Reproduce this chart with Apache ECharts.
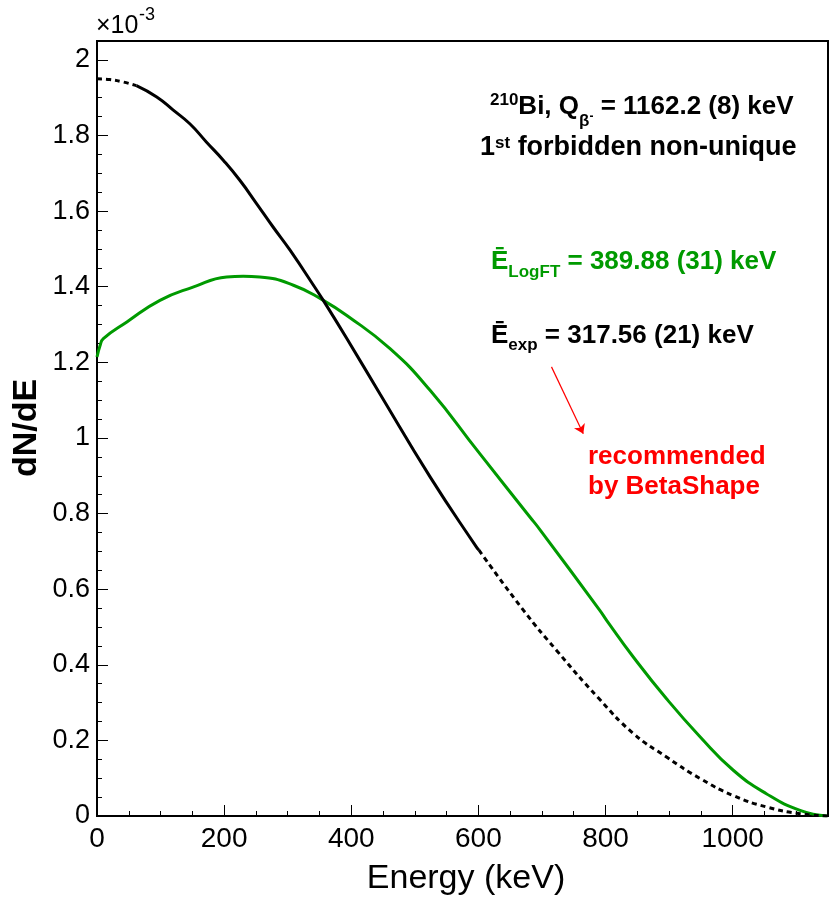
<!DOCTYPE html>
<html>
<head>
<meta charset="utf-8">
<script src="https://cdn.jsdelivr.net/npm/echarts@6/dist/echarts.min.js"></script>
<style>
  html, body { margin: 0; padding: 0; background: #fff; }
  #chart { width: 833px; height: 903px; }
</style>
</head>
<body>
<div id="chart"></div>
<script>
  // energies in keV, dN/dE in units of 1e-3
  const greenE = [0, 5, 10, 47, 99, 151, 204, 230, 256, 309, 356, 393, 461, 524, 600, 681, 697, 791, 802, 844, 896, 949, 1001, 1053, 1106, 1148]
  const greenV = [1.214, 1.245, 1.263, 1.307, 1.364, 1.399, 1.426, 1.428, 1.426, 1.404, 1.364, 1.324, 1.236, 1.126, 0.963, 0.791, 0.757, 0.544, 0.517, 0.420, 0.310, 0.209, 0.121, 0.059, 0.015, 0.0]

  // black spectrum, dotted head / solid body / dotted tail
  const blackHeadE = [0, 20, 40, 62]
  const blackHeadV = [1.950, 1.948, 1.942, 1.932]
  const blackBodyE = [62, 94, 120, 146, 172, 199, 225, 251, 277, 304, 346, 356, 393, 445, 524, 597, 601]
  const blackBodyV = [1.932, 1.902, 1.867, 1.831, 1.783, 1.734, 1.681, 1.620, 1.558, 1.496, 1.390, 1.364, 1.263, 1.117, 0.897, 0.711, 0.703]
  const blackTailE = [601, 671, 723, 790, 844, 896, 949, 1001, 1053, 1106, 1150]
  const blackTailV = [0.703, 0.544, 0.438, 0.310, 0.218, 0.156, 0.099, 0.054, 0.024, 0.006, 0.0]

  const xTicks = [0, 200, 400, 600, 800, 1000]
  const yTicks = [0, 0.2, 0.4, 0.6, 0.8, 1, 1.2, 1.4, 1.6, 1.8, 2]

  const FONT = "'Liberation Sans', Arial, sans-serif"
  const GREEN = '#009a00'

  const pairs = (xs, ys) => xs.map((x, i) => [x, ys[i]])

  const chart = echarts.init(document.getElementById('chart'), null, { renderer: 'canvas' })

  const majorTick = { show: true, inside: true, length: 11, lineStyle: { color: '#000', width: 1 } }
  const minorTick = { show: true, inside: true, length: 5, lineStyle: { color: '#000', width: 1 } }

  const option = {
    backgroundColor: '#fff',
    animation: false,
    grid: {
      left: 97, right: 5, top: 41, bottom: 87,
      show: true, borderColor: '#000', borderWidth: 2, backgroundColor: 'transparent'
    },
    xAxis: [
      {
        type: 'value', min: 0, max: 1150, interval: 200,
        axisLine: { show: true, onZero: false, lineStyle: { color: '#000', width: 2 } },
        axisTick: majorTick,
        axisLabel: {
          margin: 9, color: '#000', fontSize: 28, fontFamily: FONT,
          formatter: v => (xTicks.indexOf(v) >= 0 ? String(v) : '')
        },
        splitLine: { show: false }
      },
      {
        type: 'value', min: 0, max: 1150, interval: 50, position: 'bottom',
        axisLine: { show: false },
        axisTick: minorTick,
        axisLabel: { show: false },
        splitLine: { show: false }
      }
    ],
    yAxis: [
      {
        type: 'value', min: 0, max: 2.05, interval: 0.2,
        axisLine: { show: true, onZero: false, lineStyle: { color: '#000', width: 2 } },
        axisTick: majorTick,
        axisLabel: {
          margin: 7, color: '#000', fontSize: 27, fontFamily: FONT,
          formatter: v => {
            const r = Math.round(v * 10) / 10
            const hit = yTicks.some(t => Math.abs(t - v) < 1e-6)
            return hit ? String(r) : ''
          }
        },
        splitLine: { show: false }
      },
      {
        type: 'value', min: 0, max: 2.05, interval: 0.05, position: 'left',
        axisLine: { show: false },
        axisTick: minorTick,
        axisLabel: { show: false },
        splitLine: { show: false }
      }
    ],
    series: [
      {
        name: 'LogFT', type: 'line', showSymbol: false, smooth: 0.5,
        data: pairs(greenE, greenV),
        lineStyle: { color: GREEN, width: 3 },
        markLine: {
          silent: true, symbol: ['none', 'arrow'], symbolSize: 9,
          label: { show: false },
          lineStyle: { color: '#ff0000', width: 1.2, type: 'solid' },
          data: [[{ coord: [715, 1.188] }, { coord: [765, 1.011] }]]
        }
      },
      {
        name: 'exp head', type: 'line', showSymbol: false, smooth: 0.5,
        data: pairs(blackHeadE, blackHeadV),
        lineStyle: { color: '#000', width: 3, type: [5, 4] }
      },
      {
        name: 'exp', type: 'line', showSymbol: false, smooth: 0.5,
        data: pairs(blackBodyE, blackBodyV),
        lineStyle: { color: '#000', width: 3 }
      },
      {
        name: 'exp tail', type: 'line', showSymbol: false, smooth: 0.5,
        data: pairs(blackTailE, blackTailV),
        lineStyle: { color: '#000', width: 3, type: [5, 4] }
      }
    ],
    graphic: [
      // exponent
      { type: 'text', left: 96, top: 14, style: { text: '×10', fontSize: 25, fontFamily: FONT, fill: '#000' } },
      { type: 'text', left: 139, top: 6, style: { text: '-3', fontSize: 18, fontFamily: FONT, fill: '#000' } },
      // axis titles
      {
        type: 'text', x: 27, y: 428, rotation: Math.PI / 2,
        style: { text: 'dN/dE', fontSize: 34, fontWeight: 'bold', fontFamily: FONT, fill: '#000', align: 'center', verticalAlign: 'middle' }
      },
      {
        type: 'text', x: 466, y: 879,
        style: { text: 'Energy (keV)', fontSize: 34, fontFamily: FONT, fill: '#000', align: 'center', verticalAlign: 'middle' }
      },
      // annotations
      {
        type: 'text', x: 490, y: 92,
        style: {
          text: '{sup|210}{m|Bi, Q}{sub|β}{sm|-}{m| = 1162.2 (8) keV}',
          verticalAlign: 'top', fill: '#000',
          rich: {
            m: { fontSize: 26, fontWeight: 'bold', fontFamily: FONT, verticalAlign: 'top', height: 30, lineHeight: 30 },
            sup: { fontSize: 17, fontWeight: 'bold', fontFamily: FONT, verticalAlign: 'top', height: 17, lineHeight: 17 },
            sub: { fontSize: 17, fontWeight: 'bold', fontFamily: FONT, verticalAlign: 'top', height: 58, lineHeight: 58 },
            sm: { fontSize: 12, fontWeight: 'bold', fontFamily: FONT, verticalAlign: 'top', height: 50, lineHeight: 50 }
          }
        }
      },
      {
        type: 'text', x: 480, y: 133,
        style: {
          text: '{m|1}{sup|st}{m| forbidden non-unique}',
          verticalAlign: 'top', fill: '#000',
          rich: {
            m: { fontSize: 27, fontWeight: 'bold', fontFamily: FONT, verticalAlign: 'top', height: 30, lineHeight: 30 },
            sup: { fontSize: 17, fontWeight: 'bold', fontFamily: FONT, verticalAlign: 'top', height: 20, lineHeight: 20 }
          }
        }
      },
      {
        type: 'text', x: 491, y: 247,
        style: {
          text: '{m|Ē}{sub|LogFT}{m| = 389.88 (31) keV}',
          verticalAlign: 'top', fill: GREEN,
          rich: {
            m: { fontSize: 26, fontWeight: 'bold', fontFamily: FONT, verticalAlign: 'top', height: 30, lineHeight: 30, fill: GREEN },
            sub: { fontSize: 17, fontWeight: 'bold', fontFamily: FONT, verticalAlign: 'top', height: 51, lineHeight: 51, fill: GREEN }
          }
        }
      },
      {
        type: 'text', x: 491, y: 321,
        style: {
          text: '{m|Ē}{sub|exp}{m| = 317.56 (21) keV}',
          verticalAlign: 'top', fill: '#000',
          rich: {
            m: { fontSize: 26, fontWeight: 'bold', fontFamily: FONT, verticalAlign: 'top', height: 30, lineHeight: 30 },
            sub: { fontSize: 17, fontWeight: 'bold', fontFamily: FONT, verticalAlign: 'top', height: 48, lineHeight: 48 }
          }
        }
      },
      {
        type: 'text', x: 588, y: 457,
        style: { text: 'recommended', fontSize: 26, fontWeight: 'bold', fontFamily: FONT, fill: '#ff0000', verticalAlign: 'middle' }
      },
      {
        type: 'text', x: 588, y: 487,
        style: { text: 'by BetaShape', fontSize: 26, fontWeight: 'bold', fontFamily: FONT, fill: '#ff0000', verticalAlign: 'middle' }
      }
    ]
  }

  chart.setOption(option)
</script>
</body>
</html>
